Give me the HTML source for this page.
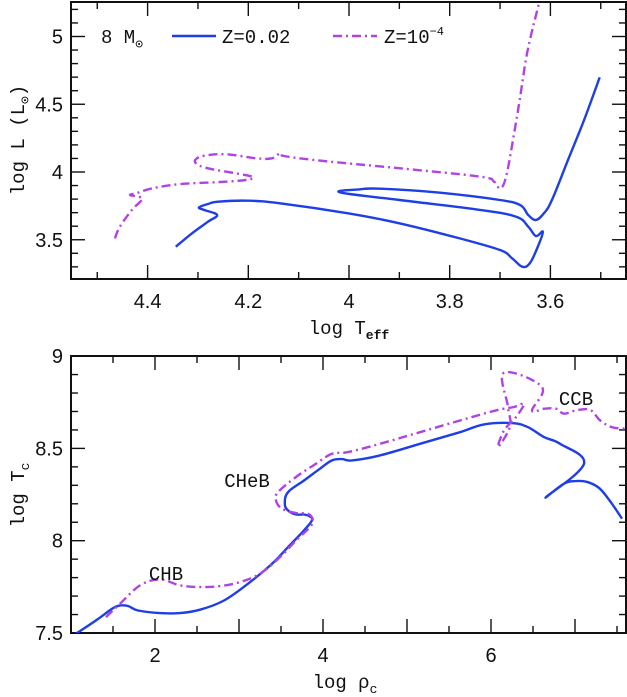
<!DOCTYPE html>
<html><head><meta charset="utf-8"><style>
html,body{margin:0;padding:0;background:#fff;}
svg{display:block;}
.tk{font-family:"Liberation Sans",sans-serif;font-size:20px;fill:#111;}
.lb{font-family:"Liberation Mono",monospace;font-size:19px;fill:#111;}
</style></head><body>
<svg id="c" width="627" height="697" viewBox="0 0 627 697"></svg>
<script>
const blueTopT=[4.344,4.312,4.280,4.262,4.288,4.298,4.280,4.260,4.201,4.137,4.002,3.899,3.780,3.700,3.676,3.656,3.641,3.625,3.615,3.629,3.644,3.668,3.740,3.899,4.018,3.978,3.938,3.819,3.700,3.660,3.644,3.629,3.613,3.597,3.565,3.533,3.502];
const blueTopL=[3.449,3.547,3.633,3.683,3.720,3.739,3.764,3.781,3.788,3.769,3.695,3.621,3.510,3.424,3.363,3.301,3.326,3.449,3.56,3.528,3.597,3.670,3.720,3.793,3.850,3.872,3.877,3.847,3.793,3.756,3.683,3.646,3.695,3.793,4.089,4.384,4.699];
const purpTopT=[4.465,4.455,4.431,4.411,4.419,4.435,4.419,4.391,4.336,4.256,4.205,4.190,4.217,4.280,4.304,4.302,4.280,4.240,4.185,4.153,4.137,4.129,4.058,3.899,3.740,3.712,3.700,3.688,3.672,3.661,3.645,3.621];
const purpTopL=[3.510,3.597,3.720,3.798,3.818,3.830,3.847,3.879,3.911,3.926,3.941,3.961,3.985,4.027,4.064,4.101,4.125,4.130,4.101,4.101,4.138,4.118,4.084,4.027,3.966,3.929,3.879,3.966,4.285,4.531,4.900,5.270];
const blueBotR=[1.060,1.298,1.488,1.583,1.679,1.798,2.060,2.298,2.536,2.821,3.107,3.393,3.583,3.774,3.869,3.845,3.774,3.679,3.583,3.545,3.583,3.774,3.964,4.107,4.226,4.345,4.679,5.155,5.631,5.917,6.250,6.440,6.631,6.821,7.107,6.655,6.869,7.012,7.155,7.298,7.440,7.560];
const blueBotTc=[7.496,7.568,7.631,7.649,7.646,7.622,7.608,7.608,7.626,7.676,7.767,7.875,7.965,8.056,8.110,8.131,8.142,8.142,8.164,8.200,8.263,8.326,8.390,8.435,8.442,8.435,8.462,8.525,8.588,8.630,8.637,8.615,8.561,8.525,8.417,8.236,8.309,8.323,8.317,8.281,8.200,8.119];
const purpBotR=[1.417,1.583,1.821,2.060,2.298,2.536,2.774,3.012,3.250,3.488,3.679,3.845,3.881,3.821,3.679,3.512,3.440,3.464,3.679,3.917,4.107,4.298,4.679,5.155,5.631,6.060,6.274,6.393,6.298,6.155,6.083,6.226,6.202,6.155,6.607,6.488,6.631,6.774,6.869,7.012,7.179,7.298,7.440,7.607];
const purpBotTc=[7.586,7.658,7.758,7.790,7.758,7.749,7.754,7.776,7.821,7.911,8.001,8.074,8.110,8.146,8.150,8.173,8.218,8.263,8.345,8.417,8.471,8.480,8.525,8.588,8.651,8.706,8.724,8.742,8.670,8.597,8.507,8.618,8.724,8.910,8.832,8.706,8.715,8.715,8.688,8.706,8.709,8.652,8.615,8.606];
const topXTicks=[4.4,4.2,4,3.8,3.6];
const topYTicks=[3.5,4,4.5,5];
const botXTicks=[2,4,6];
const botYTicks=[7.5,8,8.5,9];

const NS="http://www.w3.org/2000/svg";
const svg=document.getElementById('c');
function mk(tag,attrs,parent){const e=document.createElementNS(NS,tag);for(const k in attrs)e.setAttribute(k,attrs[k]);(parent||svg).appendChild(e);return e;}
const BLUE="#1e3ee6",PURP="#b142e6";

const tx=T=>349+(4-T)*503.5, ty=L=>172-(L-4)*135.5;
const bx=r=>155+(r-2)*84, by=t=>633-(t-7.5)*184.6;

function panel(name,x0,y0,x1,y1,xmaj,xmin,ymaj,ymin,fx,fy,xt,yt){
  const g=mk('g',{});
  
  
  for(const v of xmin){const x=fx(v);if(x<x0||x>x1)continue;
    const big=xmaj.some(m=>Math.abs(m-v)<1e-6);const L=big?14:7;
    mk('line',{x1:x,x2:x,y1:y1,y2:y1-L,stroke:'#111','stroke-width':1.4},g);
    mk('line',{x1:x,x2:x,y1:y0,y2:y0+L,stroke:'#111','stroke-width':1.4},g);}
  for(const v of ymin){const y=fy(v);if(y<y0-0.5||y>y1+0.5)continue;
    const big=ymaj.some(m=>Math.abs(m-v)<1e-6);const L=big?14:7;
    mk('line',{x1:x0,x2:x0+L,y1:y,y2:y,stroke:'#111','stroke-width':1.4},g);
    mk('line',{x1:x1,x2:x1-L,y1:y,y2:y,stroke:'#111','stroke-width':1.4},g);}
  for(const v of xt){const t=mk('text',{x:fx(v),y:y1+29,'text-anchor':'middle','class':'tk'},g);t.textContent=String(v);
    
    }
  for(const v of yt){const t=mk('text',{x:x0-8,y:fy(v)+7,'text-anchor':'end','class':'tk'},g);t.textContent=String(v);
    
    }
  mk('rect',{x:x0,y:y0,width:x1-x0,height:y1-y0,fill:'none',stroke:'#111','stroke-width':2},g);
  return g;
}
const rng=(a,b,s)=>{const o=[];for(let v=a;v<=b+1e-9;v+=s)o.push(Math.round(v*100)/100);return o;};
panel('top-panel-axes',71,2,626,279,topXTicks,rng(3.4,4.6,0.1),topYTicks,rng(3.2,5.3,0.1),tx,ty,topXTicks,topYTicks);
panel('bottom-panel-axes',71,356,626,633,[1,2,3,4,5,6,7],rng(1,7.5,0.5),botYTicks,rng(7.5,9,0.1),bx,by,botXTicks,botYTicks);

function smoothPath(pts){
  let d='M'+pts[0][0].toFixed(1)+','+pts[0][1].toFixed(1);
  const k=0.18;
  for(let i=0;i<pts.length-1;i++){
    const p0=pts[Math.max(i-1,0)],p1=pts[i],p2=pts[i+1],p3=pts[Math.min(i+2,pts.length-1)];
    const c1=[p1[0]+(p2[0]-p0[0])*k,p1[1]+(p2[1]-p0[1])*k];
    const c2=[p2[0]-(p3[0]-p1[0])*k,p2[1]-(p3[1]-p1[1])*k];
    d+='C'+c1.map(v=>v.toFixed(1)).join(',')+' '+c2.map(v=>v.toFixed(1)).join(',')+' '+p2.map(v=>v.toFixed(1)).join(',');
  }
  return d;
}
function curve(name,xs,ys,fx,fy,color,dash,clip){
  const pts=xs.map((v,i)=>[fx(v),fy(ys[i])]);
  const p=mk('path',{d:smoothPath(pts),fill:'none',stroke:color,'stroke-width':2.4,'stroke-linejoin':'round','clip-path':clip});
  if(dash)p.setAttribute('stroke-dasharray',dash);
  
  
}
const defs=mk('defs',{});
const c1=mk('clipPath',{id:'cp1'},defs);mk('rect',{x:71,y:2,width:555,height:277},c1);
const c2=mk('clipPath',{id:'cp2'},defs);mk('rect',{x:71,y:356,width:555,height:277},c2);
curve('track-z002-hr',blueTopT,blueTopL,tx,ty,BLUE,null,'url(#cp1)');
curve('track-z1e-4-hr',purpTopT,purpTopL,tx,ty,PURP,'9,4,2,4','url(#cp1)');
curve('track-z002-core',blueBotR,blueBotTc,bx,by,BLUE,null,'url(#cp2)');
curve('track-z1e-4-core',purpBotR,purpBotTc,bx,by,PURP,'9,4,2,4','url(#cp2)');
</script>
<svg width="627" height="697" style="position:absolute;left:0;top:0">
<g>
<text x="101" y="43" class="lb">8 M<tspan font-size="13" dy="5">⊙</tspan></text>
<line x1="172" y1="36" x2="216" y2="36" stroke="#1e3ee6" stroke-width="2.4"/>
<text x="222" y="43" class="lb">Z=0.02</text>
<line x1="333" y1="36" x2="377" y2="36" stroke="#b142e6" stroke-width="2.4" stroke-dasharray="9,4,2,4"/>
<text x="384" y="43" class="lb">Z=10<tspan font-size="12" dy="-8">−4</tspan></text>
</g>
<text x="349" y="334" text-anchor="middle" class="lb">log T<tspan font-size="13" dy="5" font-weight="bold">eff</tspan></text>
<text transform="translate(24,140) rotate(-90)" text-anchor="middle" class="lb">log L (L<tspan font-size="13" dy="5">⊙</tspan><tspan dy="-5">)</tspan></text>
<text x="345" y="688" text-anchor="middle" class="lb">log ρ<tspan font-size="13" dy="5">c</tspan></text>
<text transform="translate(24,495) rotate(-90)" text-anchor="middle" class="lb">log T<tspan font-size="13" dy="5">c</tspan></text>
<text x="166" y="580" text-anchor="middle" class="lb" font-size="17">CHB</text>
<text x="247" y="487" text-anchor="middle" class="lb" font-size="17">CHeB</text>
<text x="576" y="405" text-anchor="middle" class="lb" font-size="17">CCB</text>
</svg>
</body></html>
